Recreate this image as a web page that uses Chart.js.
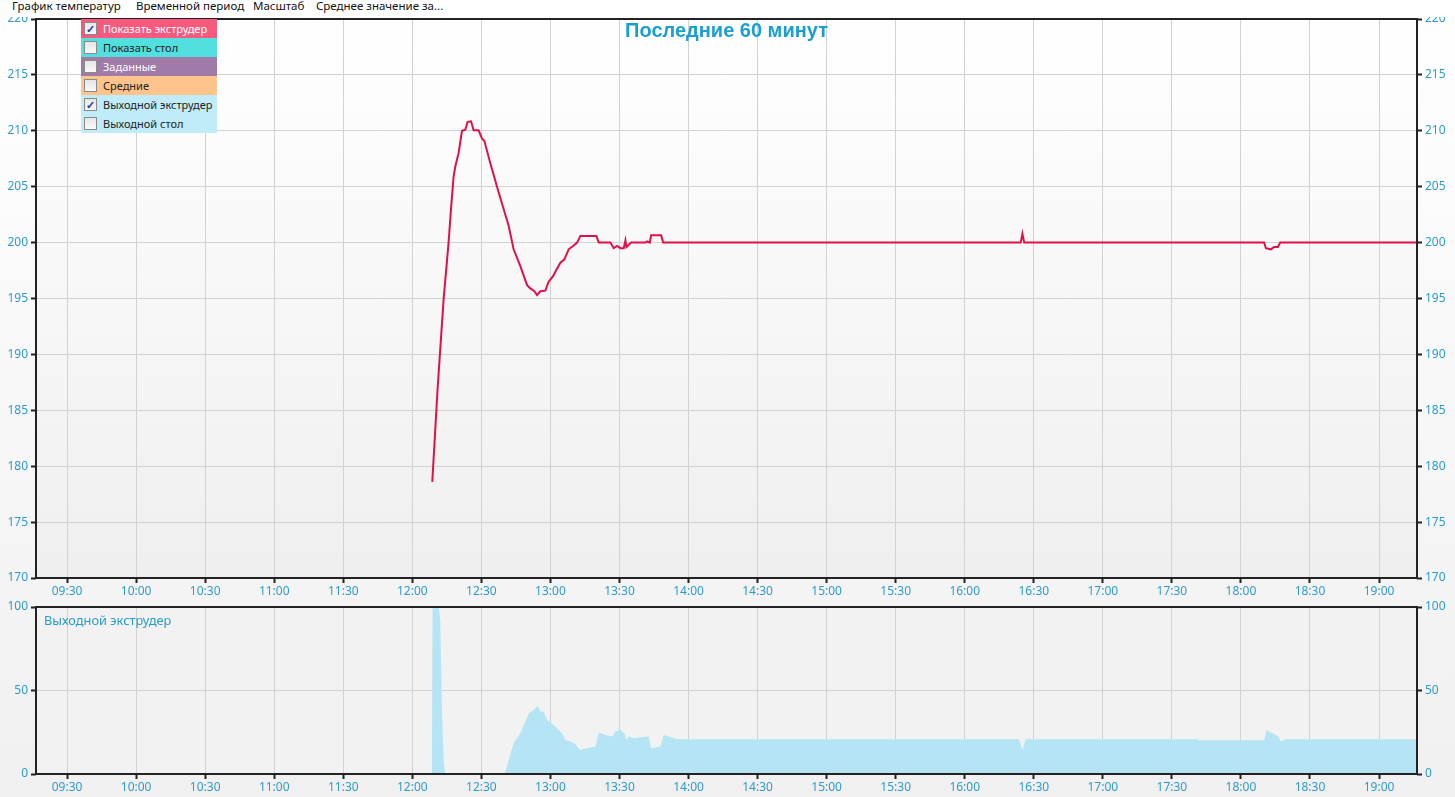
<!DOCTYPE html>
<html>
<head>
<meta charset="utf-8">
<script src="https://cdn.jsdelivr.net/npm/chart.js@4.4.1/dist/chart.umd.min.js"></script>
<style>
  html, body { margin:0; padding:0; }
  body { width:1455px; height:797px; overflow:hidden; position:relative;
         background: linear-gradient(#ffffff, #f0f0f0); font-family:"Noto Sans", sans-serif; }
  #menu { position:absolute; left:0; top:0; width:1455px; height:17px; background:#ffffff; z-index:5;
          font-size:11.5px; color:#111; }
  #menu span { position:absolute; top:-2px; white-space:nowrap; }
  .wrap { position:absolute; left:0; width:1455px; }
  #w1 { top:0; height:600px; }
  #w2 { top:595px; height:202px; }
  #title { position:absolute; left:476px; width:501px; top:19px; text-align:center; z-index:4;
           font-family:"Liberation Sans", Arial, sans-serif; font-weight:bold; font-size:20px; color:#1a9fd0; }
  #legend { position:absolute; left:81px; top:19px; width:136px; z-index:4; font-size:11px; }
  #legend div { height:19px; line-height:19px; position:relative; padding-left:22px; white-space:nowrap; }
  #legend div i { position:absolute; left:3px; top:3px; width:11px; height:11px; border:1px solid #8a8a8a;
                  background:linear-gradient(#e6e6e6,#f8f8f8); font-style:normal; font-size:11px; line-height:11px;
                  text-align:center; color:#2a3f9a; font-weight:bold; }
  #sub { position:absolute; left:44px; top:611px; z-index:4; font-size:12.8px; color:#2a9cc8; }
</style>
</head>
<body>
<div id="menu">
  <span style="left:12px">График температур</span>
  <span style="left:136px">Временной период</span>
  <span style="left:253px">Масштаб</span>
  <span style="left:316px">Среднее значение за...</span>
</div>
<div id="title">Последние 60 минут</div>
<div id="legend">
  <div style="background:#f85a7e;color:#fff"><i>✓</i>Показать экструдер</div>
  <div style="background:#52dfe0;color:#222"><i></i>Показать стол</div>
  <div style="background:#a07ba8;color:#fff"><i></i>Заданные</div>
  <div style="background:#ffc48c;color:#222"><i></i>Средние</div>
  <div style="background:#c0ebf8;color:#222"><i>✓</i>Выходной экструдер</div>
  <div style="background:#c0ebf8;color:#222"><i></i>Выходной стол</div>
</div>
<div id="sub">Выходной экструдер</div>
<div class="wrap" id="w1"><canvas id="c1"></canvas></div>
<div class="wrap" id="w2"><canvas id="c2"></canvas></div>
<script>
// ---------- data ----------
const timeTicks = ["09:30","10:00","10:30","11:00","11:30","12:00","12:30","13:00","13:30","14:00",
  "14:30","15:00","15:30","16:00","16:30","17:00","17:30","18:00","18:30","19:00"];
const timeMin = "09:16:30";
const timeMax = "19:16:30";
const tempTicks = [170,175,180,185,190,195,200,205,210,215,220];
const outTicks = [0,50,100];

const tempTimes = ["12:08:40","12:11:00","12:13:35","12:15:45","12:16:48","12:17:56","12:18:40","12:20:06",
  "12:21:35","12:23:01","12:24:01","12:25:30","12:26:38","12:28:48","12:30:17","12:31:17","12:33:53",
  "12:36:48","12:39:40","12:41:51","12:44:01","12:46:56","12:49:51","12:51:17","12:53:01","12:54:12",
  "12:55:38","12:57:48","12:59:14","13:01:09","13:02:09","13:04:20","13:06:04","13:07:56","13:09:51",
  "13:11:35","13:13:01","13:19:59","13:20:59","13:26:04","13:27:30","13:28:59","13:30:25","13:31:51",
  "13:32:35","13:33:01","13:34:01","13:35:04","13:41:17","13:42:01","13:43:09","13:43:46","13:48:07",
  "13:48:59","16:24:20","16:25:04","16:25:51","18:10:06","18:10:51","18:13:01","18:14:20","18:16:04",
  "18:17:04","19:16:30"];
const tempValues = [178.6,187,194.9,200,203,205.9,206.8,208,
  210,210.1,210.8,210.85,210.05,210.05,209.3,209.1,207.1,
  205,203,201.5,199.4,197.9,196.2,195.9,195.65,195.3,
  195.65,195.7,196.5,197,197.4,198.2,198.5,199.4,199.7,
  200,200.6,200.6,200,200,199.5,199.7,199.5,199.5,
  200.2,199.6,199.8,200,200,200.1,200,200.65,200.65,
  200,200,200.8,200,200,199.5,199.4,199.6,199.6,
  200,200];

const outTimes = ["12:08:30","12:08:48","12:11:25","12:12:09","12:12:53","12:13:35","12:14:20","12:40:07",
  "12:44:01","12:46:56","12:50:32","12:52:43","12:54:28","12:55:38","12:57:04","12:58:33","13:00:43",
  "13:02:53","13:05:04","13:06:30","13:08:40","13:10:51","13:12:43","13:15:56","13:19:33","13:20:59",
  "13:23:53","13:26:48","13:28:14","13:30:25","13:32:09","13:33:01","13:34:01","13:36:12","13:39:07",
  "13:42:43","13:43:46","13:47:48","13:49:14","13:50:51","13:55:04","16:23:35","16:25:04","16:26:30",
  "17:41:09","17:41:43","18:10:06","18:11:09","18:13:01","18:15:12","18:16:30","18:17:22","18:19:33",
  "19:16:30"];
const outValues = [0,100,100,92,38,8,0,0,
  18.4,24.4,36.3,38.3,40.7,37.3,37.3,32.3,30.3,
  27.3,24.4,20.4,19.4,18,14.4,15.4,16.4,24.8,
  23.4,22.4,25.4,26.4,24.4,20.4,22.4,21.4,22,
  22.4,15.4,16.4,23.4,22.8,20.8,20.8,14.4,20.8,
  20.8,20.2,20.2,26.4,24.8,23.4,22,19.4,20.8,
  20.8];

// ---------- helpers ----------
function toMin(s){ const p = s.split(":").map(Number); return p[0]*60 + p[1] + (p[2]||0)/60; }
function fmt(v){ const h = Math.floor(v/60), m = Math.round(v - h*60); return String(h).padStart(2,"0")+":"+String(m).padStart(2,"0"); }
const pts = (ts, vs) => ts.map((t,i) => ({x: toMin(t), y: vs[i]}));

const TICK = "#2e9ccb";
const FONT = {family:"Noto Sans", size:12};

const boxPlugin = {
  id:"box",
  beforeDraw(chart, args, opts){
    const {ctx, chartArea:a} = chart;
    ctx.save();
    let fill = opts.bg;
    if (opts.gradient) {
      const g = ctx.createLinearGradient(0, a.top, 0, a.bottom);
      g.addColorStop(0, "#ffffff"); g.addColorStop(1, "#efefef");
      fill = g;
    }
    ctx.fillStyle = fill;
    ctx.fillRect(a.left, a.top, a.right - a.left, a.bottom - a.top);
    ctx.restore();
  },
  afterDatasetsDraw(chart){
    const {ctx, chartArea:a} = chart;
    ctx.save();
    ctx.strokeStyle = "#222"; ctx.lineWidth = 2;
    ctx.strokeRect(a.left, a.top, a.right - a.left, a.bottom - a.top);
    ctx.restore();
  }
};

function xScale(h){
  return {
    type:"linear", min: toMin(timeMin), max: toMin(timeMax),
    afterBuildTicks(s){ s.ticks = timeTicks.map(t => ({value: toMin(t)})); },
    afterFit(s){ s.height = h; },
    ticks:{ color:TICK, font:FONT, padding:1, maxRotation:0, autoSkip:false, callback:v => fmt(v) },
    grid:{ color:"#d2d2d2", lineWidth:1, tickColor:"#222", tickLength:5, tickWidth:2 },
    border:{ display:false }
  };
}
function yScale(pos, ticks, w, grid){
  return {
    type:"linear", position:pos, min:ticks[0], max:ticks[ticks.length-1],
    afterBuildTicks(s){ s.ticks = ticks.map(v => ({value:v})); },
    afterFit(s){ s.width = w; },
    ticks:{ color:TICK, font:FONT, padding:3 },
    grid:{ display:true, drawOnChartArea:grid, color:"#d2d2d2", lineWidth:1, tickColor:"#222", tickLength:5, tickWidth:2 },
    border:{ display:false }
  };
}

const common = {
  responsive:true, maintainAspectRatio:false, animation:false,
  plugins:{ legend:{display:false}, tooltip:{enabled:false} },
  elements:{ point:{radius:0}, line:{tension:0} }
};

new Chart(document.getElementById("c1"), {
  type:"line",
  data:{ datasets:[{ data: pts(tempTimes, tempValues), borderColor:"#e0104a", borderWidth:2, fill:false, yAxisID:"y" }] },
  options:{ ...common,
    layout:{ padding:{ top:19, left:0, right:0, bottom:0 } },
    plugins:{ ...common.plugins, box:{ gradient:true } },
    scales:{ x: xScale(22), y: yScale("left", tempTicks, 36, true), y2: yScale("right", tempTicks, 38, false) }
  },
  plugins:[boxPlugin]
});

new Chart(document.getElementById("c2"), {
  type:"line",
  data:{ datasets:[{ data: pts(outTimes, outValues), borderWidth:0, borderColor:"rgba(0,0,0,0)",
    backgroundColor:"#b5e5f4", fill:"origin", yAxisID:"y" }] },
  options:{ ...common,
    layout:{ padding:{ top:12, left:0, right:0, bottom:0 } },
    plugins:{ ...common.plugins, box:{ gradient:false, bg:"#f2f2f2" } },
    scales:{ x: xScale(23), y: yScale("left", outTicks, 36, true), y2: yScale("right", outTicks, 38, false) }
  },
  plugins:[boxPlugin]
});
</script>
</body>
</html>
